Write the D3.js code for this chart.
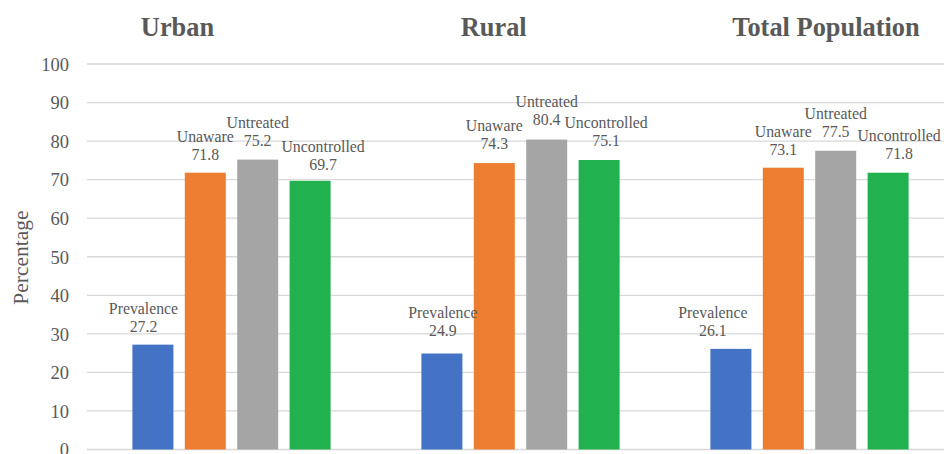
<!DOCTYPE html>
<html>
<head>
<meta charset="utf-8">
<script src="https://cdn.jsdelivr.net/npm/d3@7"></script>
<style>
  html, body { margin: 0; padding: 0; background: #fff; }
  svg { display: block; }
</style>
</head>
<body>
<svg id="chart" width="944" height="454"></svg>
<script>
// ---- data ----
const groups = ["Urban", "Rural", "Total Population"];
const measures = ["Prevalence", "Unaware", "Untreated", "Uncontrolled"];
const urbanValues = [27.2, 71.8, 75.2, 69.7];
const ruralValues = [24.9, 74.3, 80.4, 75.1];
const totalValues = [26.1, 73.1, 77.5, 71.8];
const yTicks = [0, 10, 20, 30, 40, 50, 60, 70, 80, 90, 100];
const yTitle = "Percentage";

// ---- layout / style (not data) ----
const colors = ["#4472C4", "#ED7D31", "#A5A5A5", "#21B14F"];
const textColor = "#595959";
const serif = "'Liberation Serif', 'Times New Roman', serif";
// manual label nudges (dx, baseline gap above bar), per group x measure
const labelDx = [[-9.4, 0, 0, 13], [1, 0, 0, 7], [-18, 0, 0, 11]];
const labelGap = [[12.3, 12.7, 14, 11], [18, 14, 14.6, 14], [13.2, 12.7, 13.4, 13.4]];
const titleX = [177.5, 493.7, 826];

const valuesByGroup = [urbanValues, ruralValues, totalValues];
const svg = d3.select("#chart");

const plotLeft = 87, groupStep = 289;
const y = d3.scaleLinear().domain([0, 100]).range([449.5, 64]);
const x0 = d3.scaleBand().domain(groups).range([plotLeft, plotLeft + groupStep * groups.length]).padding(0);
const x1 = d3.scaleBand().domain(measures).range([45.4, 243.6]).paddingInner(0.2176).paddingOuter(0);

// gridlines
svg.append("g").selectAll("line").data(yTicks).join("line")
  .attr("x1", plotLeft).attr("x2", 944)
  .attr("y1", d => y(d)).attr("y2", d => y(d))
  .attr("stroke", "#d9d9d9").attr("stroke-width", 1.3);

// y axis tick labels via d3 axis
const yAxis = d3.axisLeft(y).tickValues(yTicks).tickSize(0).tickPadding(0).tickFormat(d3.format("d"));
const gy = svg.append("g").attr("transform", "translate(69,0)").call(yAxis);
gy.select(".domain").remove();
gy.selectAll("text")
  .attr("font-family", serif).attr("font-size", 18.5).attr("fill", textColor)
  .attr("dy", "0.34em");

// y title
svg.append("text")
  .attr("transform", "translate(27.5,257.5) rotate(-90)")
  .attr("text-anchor", "middle")
  .attr("font-family", serif).attr("font-size", 21.5).attr("fill", textColor)
  .text(yTitle);

// bars
const gGroups = svg.append("g").selectAll("g").data(groups).join("g")
  .attr("transform", d => `translate(${x0(d)},0)`);

gGroups.each(function(g, gi) {
  const vals = valuesByGroup[gi];
  const sel = d3.select(this);
  sel.selectAll("rect").data(measures).join("rect")
    .attr("x", m => x1(m))
    .attr("width", x1.bandwidth())
    .attr("y", (m, i) => y(vals[i]))
    .attr("height", (m, i) => y(0) - y(vals[i]))
    .attr("fill", (m, i) => colors[i]);

  const lab = sel.selectAll("text.lab").data(measures).join("text")
    .attr("class", "lab")
    .attr("text-anchor", "middle")
    .attr("font-family", serif).attr("font-size", 15.8).attr("fill", textColor);
  lab.append("tspan")
    .attr("x", (m, i) => x1(m) + x1.bandwidth() / 2 + labelDx[gi][i])
    .attr("y", (m, i) => y(vals[i]) - labelGap[gi][i] - 18)
    .text(m => m);
  lab.append("tspan")
    .attr("x", (m, i) => x1(m) + x1.bandwidth() / 2 + labelDx[gi][i])
    .attr("y", (m, i) => y(vals[i]) - labelGap[gi][i])
    .text((m, i) => vals[i].toFixed(1));
});

// group titles
svg.append("g").selectAll("text").data(groups).join("text")
  .attr("x", (d, i) => titleX[i]).attr("y", 35.5)
  .attr("text-anchor", "middle")
  .attr("font-family", serif).attr("font-weight", "bold").attr("font-size", 26.4)
  .attr("fill", textColor)
  .text(d => d);
</script>
</body>
</html>
